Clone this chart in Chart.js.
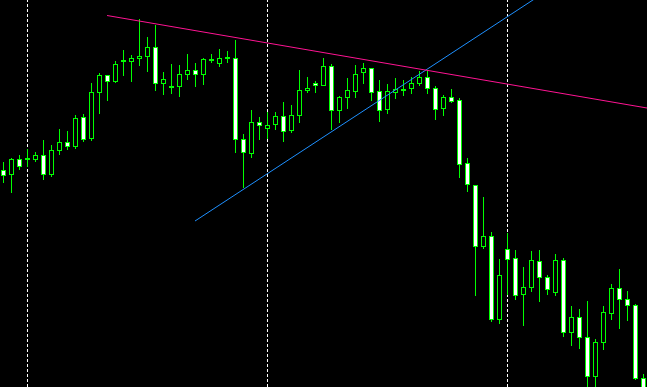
<!DOCTYPE html>
<html>
<head>
<meta charset="utf-8">
<script src="https://cdn.jsdelivr.net/npm/chart.js@4"></script>
<style>
    html, body { margin: 0; padding: 0; background: #000; }
    #wrap { width: 647px; height: 387px; position: relative; }
</style>
</head>
<body>
<div id="wrap"><canvas id="myChart"></canvas></div>
<script>
// candle values (price units, bigger = higher on the chart)
const opens  = [217,212,228,229,227,232,212,236,245,240,270,248,294,312,305,325,325,328,330,340,303,299,300,312,317,312,326,323,328,329,248,233,265,258,262,271,256,271,296,304,301,321,276,289,295,314,319,296,277,294,296,298,303,310,299,278,290,287,224,202,140,151,67,138,129,92,99,126,110,94,127,54,70,50,10,44,73,99,88,82,9];
const highs  = [225,229,232,238,235,247,242,258,256,272,273,304,314,312,326,337,332,368,350,362,315,323,322,333,324,329,333,338,336,347,253,277,270,275,275,285,282,317,310,306,329,323,291,309,322,324,319,307,303,309,307,310,316,317,301,292,298,289,229,202,190,155,128,154,137,120,136,137,112,133,129,81,78,86,48,81,103,118,96,83,13];
const lows   = [204,194,217,220,225,207,210,232,237,238,245,246,273,286,304,311,305,321,315,296,292,293,290,307,300,302,324,320,324,234,199,229,247,248,257,245,254,264,294,294,301,257,264,278,289,303,286,265,273,288,291,293,301,293,267,271,284,209,195,91,138,65,63,92,87,61,95,85,92,91,50,41,38,-3,-3,37,67,58,66,7,-13];
const closes = [211,228,220,227,232,212,237,245,240,269,247,295,312,305,323,327,329,331,340,303,308,301,313,317,312,328,328,329,330,247,234,265,261,262,271,255,272,297,299,301,321,276,290,297,313,319,294,276,296,298,298,304,310,298,277,290,285,222,202,140,151,67,112,127,91,100,127,109,97,127,54,70,49,10,45,75,99,87,81,8,-8];

// vertical separators (candle index)
const separators = [3, 33, 63];

// trend lines: [index, price] pairs
const resistance = [[12.94, 371.5], [80.44, 279]];
const support = [[23.94, 166], [70, 407]];

const green = "#00ff00";

let idx = opens.map((v, i) => i);

let wickData = idx.map(i => ({ x: i, y: [lows[i], highs[i]] }));
let bodyData = idx.map(i => ({ x: i, y: [opens[i], closes[i]] }));
let bodyFill = idx.map(i => (closes[i] < opens[i] ? "#ffffff" : "#000000"));

let sepSets = separators.map(s => ({
    type: "line",
    data: [{ x: s, y: 0 }, { x: s, y: 387 }],
    borderColor: "#ffffff",
    borderWidth: 1,
    borderDash: [3, 2],
    pointRadius: 0,
    order: 5
}));

let myChart = new Chart("myChart", {
    type: "bar",
    data: {
        datasets: [
            {
                type: "line",
                data: resistance.map(p => ({ x: p[0], y: p[1] })),
                borderColor: "#ff1493",
                borderWidth: 1,
                pointRadius: 0,
                order: 1
            },
            {
                type: "line",
                data: support.map(p => ({ x: p[0], y: p[1] })),
                borderColor: "#1e90ff",
                borderWidth: 1,
                pointRadius: 0,
                order: 1
            },
            {
                data: bodyData,
                backgroundColor: bodyFill,
                borderColor: green,
                borderWidth: 1,
                borderSkipped: false,
                barThickness: 5,
                grouped: false,
                inflateAmount: 0,
                order: 2
            },
            {
                data: wickData,
                backgroundColor: green,
                borderWidth: 0,
                barThickness: 1,
                grouped: false,
                inflateAmount: 0,
                order: 3
            },
            ...sepSets
        ]
    },
    options: {
        responsive: true,
        maintainAspectRatio: false,
        devicePixelRatio: 1,
        animation: false,
        layout: { padding: 0 },
        plugins: { legend: { display: false }, tooltip: { enabled: false } },
        scales: {
            x: { type: "linear", min: -0.4375, max: 80.4375, offset: false, display: false },
            y: { type: "linear", min: 0, max: 387, display: false }
        }
    }
});
</script>
</body>
</html>
